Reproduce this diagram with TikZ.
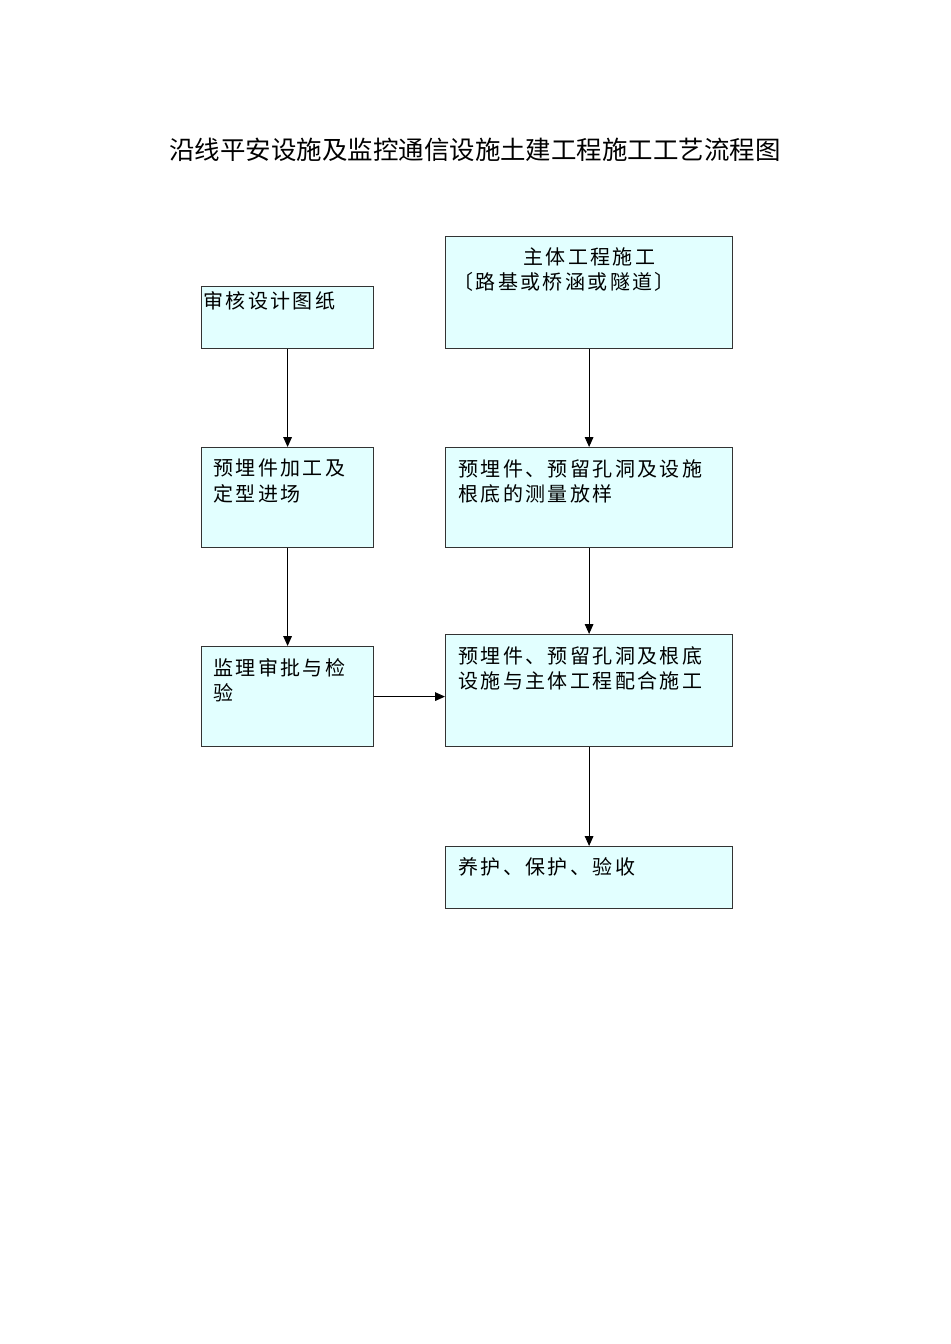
\documentclass[tikz,border=0pt]{standalone}
\usepackage{fontspec}
\setmainfont{Noto Sans CJK SC}
\newfontfamily\boxfont[LetterSpace=12]{Noto Sans CJK SC}
\newfontfamily\titlefont{Noto Sans CJK SC}
\usepackage{tikz}
\usetikzlibrary{arrows.meta, positioning, calc}
\definecolor{boxfill}{HTML}{E2FFFF}
\definecolor{boxline}{HTML}{333333}

\begin{document}
\begin{tikzpicture}[
  % one unit is one pixel of the page, y runs down
  x=0.75pt, y=-0.75pt,
  stage/.style={draw=boxline, fill=boxfill, line width=0.9pt,
                anchor=north west, inner sep=0pt},
  narrow/.style={minimum width=129pt},
  wide/.style={minimum width=215.25pt},
  boxtext/.style={anchor=north west, inner sep=0pt, align=left,
                  font=\boxfont\fontsize{15pt}{19pt}\selectfont},
  flow/.style={-{Triangle[length=7.5pt,width=6.5pt]}, line width=0.75pt, black}
]
\useasboundingbox (0,0) rectangle (950,1344);

% --- title --------------------------------------------------------------------
\node[font=\titlefont\fontsize{19.1pt}{22pt}\selectfont] (title) at (475,150)
  {沿线平安设施及监控通信设施土建工程施工工艺流程图};

% --- boxes ----------------------------------------------------------------------
\node[stage, narrow, minimum height=46.5pt] (review)  at (201,286) {};
\node[stage, wide,   minimum height=84pt]   (main)    at (445,236) {};
\node[stage, narrow, minimum height=75pt]   (embed)   at (201,447) {};
\node[stage, wide,   minimum height=75pt]   (survey)  at (445,447) {};
\node[stage, narrow, minimum height=75pt]   (inspect) at (201,646) {};
\node[stage, wide,   minimum height=84pt]   (coop)    at (445,634) {};
\node[stage, wide,   minimum height=46.5pt] (cure)    at (445,846) {};

% --- box texts ------------------------------------------------------------------
\node[boxtext] (review-t)  at (203,291) {审核设计图纸};
\node[boxtext] (main-t)    at (453,247)
  {\makebox[204pt][c]{主体工程施工}\\〔路基或桥涵或隧道〕};
\node[boxtext] (embed-t)   at (213,459) {预埋件加工及\\定型进场};
\node[boxtext] (survey-t)  at (458,459) {预埋件、预留孔洞及设施\\根底的测量放样};
\node[boxtext] (inspect-t) at (213,658) {监理审批与检\\验};
\node[boxtext] (coop-t)    at (458,646) {预埋件、预留孔洞及根底\\设施与主体工程配合施工};
\node[boxtext] (cure-t)    at (458,857) {养护、保护、验收};

% --- arrows ---------------------------------------------------------------------
\draw[flow] (review) -- (embed);
\draw[flow] (embed) -- (inspect);
\draw[flow] (main) -- (survey);
\draw[flow] (survey) -- (coop);
\draw[flow] (inspect.east) -- (inspect.east -| coop.west);
\draw[flow] (coop) -- (cure);

\end{tikzpicture}
\end{document}
